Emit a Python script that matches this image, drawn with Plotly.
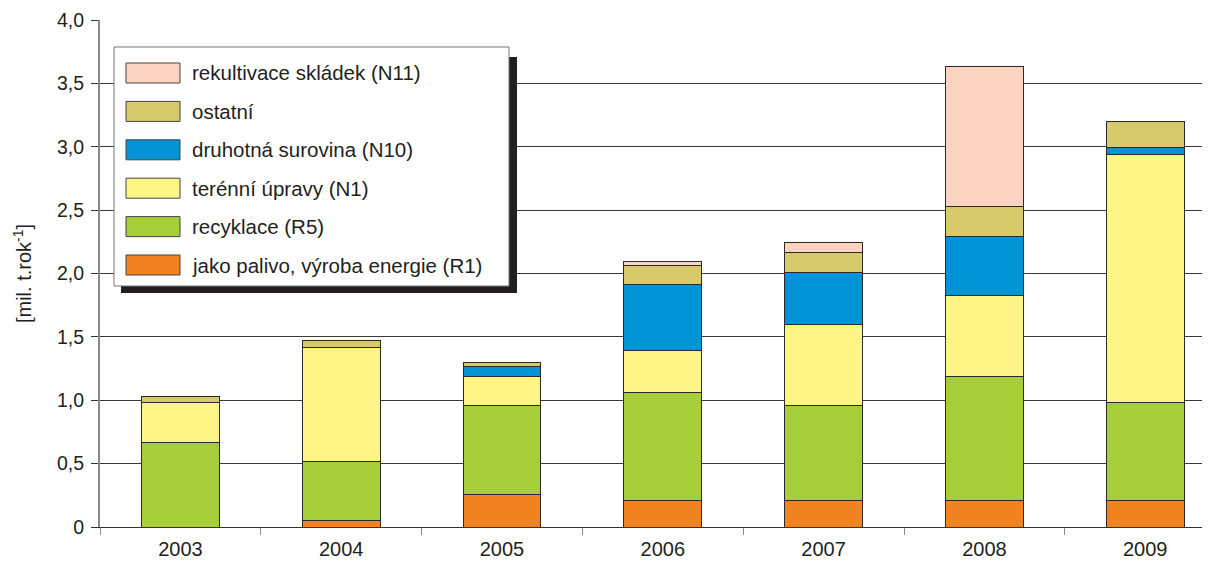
import plotly.graph_objects as go

years = ["2003", "2004", "2005", "2006", "2007", "2008", "2009"]

# series (bottom to top of stack)
palivo_R1 = [0.0, 0.055, 0.26, 0.21, 0.21, 0.21, 0.21]
recyklace_R5 = [0.67, 0.465, 0.70, 0.85, 0.745, 0.98, 0.775]
terenni_N1 = [0.31, 0.90, 0.23, 0.33, 0.64, 0.64, 1.955]
druhotna_N10 = [0.0, 0.0, 0.08, 0.52, 0.41, 0.465, 0.055]
ostatni = [0.05, 0.055, 0.025, 0.155, 0.16, 0.23, 0.205]
rekultivace_N11 = [0.0, 0.0, 0.0, 0.03, 0.08, 1.11, 0.0]

series_names = [
    "jako palivo, výroba energie (R1)",
    "recyklace (R5)",
    "terénní úpravy (N1)",
    "druhotná surovina (N10)",
    "ostatní",
    "rekultivace skládek (N11)",
]
series_values = [palivo_R1, recyklace_R5, terenni_N1, druhotna_N10, ostatni, rekultivace_N11]
series_colors = ["#f28322", "#a6ce39", "#fff587", "#0094d6", "#d7ca6b", "#fcd2c0"]

y_tickvals = [0, 0.5, 1.0, 1.5, 2.0, 2.5, 3.0, 3.5, 4.0]
y_ticktext = ["0", "0,5", "1,0", "1,5", "2,0", "2,5", "3,0", "3,5", "4,0"]

FONT = "Liberation Sans, Arial, sans-serif"
OFF = 8  # page body margin
W, H = 1210 - OFF, 565 - OFF
L, R, T, B = 100 - OFF, 0, 20 - OFF, 38

fig = go.Figure()
for name, vals, col in zip(series_names, series_values, series_colors):
    fig.add_trace(go.Bar(
        x=years, y=vals, name=name, width=0.485,
        marker=dict(color=col, line=dict(color="#2a2a2a", width=1)),
        showlegend=False,
    ))

# custom legend, placed in page pixels -> paper coords
pw, ph = W - L - R, H - T - B
def px(x):
    return (x - OFF - L) / pw
def py(y):
    return (H - B - (y - OFF)) / ph

shapes = []
annotations = []
shapes.append(dict(type="rect", xref="paper", yref="paper", layer="above",
                   x0=px(121), x1=px(517), y0=py(293), y1=py(57),
                   fillcolor="#231f20", line=dict(width=0)))
shapes.append(dict(type="rect", xref="paper", yref="paper", layer="above",
                   x0=px(114), x1=px(509), y0=py(286), y1=py(47),
                   fillcolor="white", line=dict(color="#777777", width=1)))
row0, step = 73.0, 38.4
for i, (name, col) in enumerate(zip(series_names[::-1], series_colors[::-1])):
    cy = row0 + i * step
    shapes.append(dict(type="rect", xref="paper", yref="paper", layer="above",
                       x0=px(126), x1=px(180), y0=py(cy + 10), y1=py(cy - 10),
                       fillcolor=col, line=dict(color="#444444", width=1)))
    annotations.append(dict(xref="paper", yref="paper", x=px(190), y=py(cy),
                            xanchor="left", yanchor="middle", showarrow=False,
                            text=name, font=dict(family=FONT, size=20.5, color="#231f20")))

fig.update_layout(
    width=W, height=H,
    margin=dict(l=L, r=R, t=T, b=B),
    paper_bgcolor="white", plot_bgcolor="white",
    barmode="stack",
    font=dict(family=FONT, size=19, color="#231f20"),
    shapes=shapes, annotations=annotations,
    xaxis=dict(
        type="category", range=[-0.5, 6.403],
        tickson="boundaries", ticks="outside", ticklen=7, tickcolor="#888888",
        showline=True, linecolor="#333333", linewidth=1,
        showgrid=False, tickfont=dict(size=20), ticklabelstandoff=4,
    ),
    yaxis=dict(
        range=[0, 4.0], tickvals=y_tickvals, ticktext=y_ticktext,
        ticks="outside", ticklen=7, tickcolor="#333333",
        showline=True, linecolor="#8a8a8a", linewidth=2,
        showgrid=True, gridcolor="#3a3a3a", gridwidth=1,
        zeroline=True, zerolinecolor="#333333", zerolinewidth=1,
        tickfont=dict(size=19.5), ticklabelstandoff=3,
        title=dict(text="[mil. t.rok<sup>-1</sup>]", font=dict(size=20), standoff=20),
    ),
)

fig.write_html("out.html")
